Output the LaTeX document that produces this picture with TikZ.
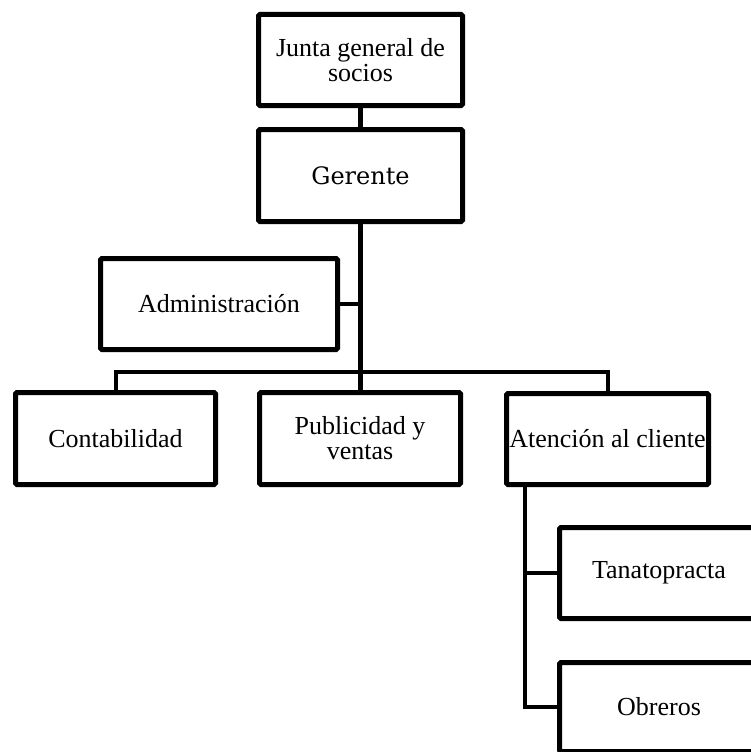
\documentclass[tikz,border=0pt]{standalone}
\usepackage{fontspec}
\setmainfont{Liberation Serif}
\newfontfamily\gerfont{DejaVu Serif}
\usetikzlibrary{calc}
\begin{document}
\begin{tikzpicture}[x=1pt,y=-1pt,
  box/.style={draw=black, line width=5pt, rounded corners=1.5pt, fill=white,
    inner sep=0pt, align=center, font=\fontsize{26}{25}\selectfont},
  conn/.style={draw=black, line width=4pt},
  mainconn/.style={draw=black, line width=5pt},
  thinconn/.style={draw=black, line width=3.5pt}]
\useasboundingbox (0,0) rectangle (750,752);
% connectors first (behind boxes)
\node[box, minimum width=204pt, minimum height=91pt] (junta) at (360.5,60) {Junta general de\\socios};
\node[box, minimum width=204pt, minimum height=92pt, font=\gerfont\fontsize{24}{26}\selectfont] (gerente) at (360.5,175.5) {Gerente};
\node[box, minimum width=237pt, minimum height=91pt] (admin) at (219,304) {Administración};
\node[box, minimum width=200pt, minimum height=92pt] (conta) at (115.5,438.5) {Contabilidad};
\node[box, minimum width=201pt, minimum height=92pt] (publi) at (360,438.5) {Publicidad y\\ventas};
\node[box, minimum width=202pt, minimum height=91pt] (aten) at (607.5,439) {Atención al cliente};
\node[box, minimum width=199pt, minimum height=91pt] (tanato) at (659,573) {Tanatopracta};
\node[box, minimum width=199pt, minimum height=89pt] (obreros) at (659,707) {Obreros};
% connectors
\draw[mainconn] (junta.south) -- (gerente.north);
\draw[mainconn] (gerente.south) -- (gerente.south |- publi.north);
\draw[thinconn] (admin.east) -- (admin.east -| gerente.south);
\coordinate (bar) at (360,372);
\draw[conn] (conta.north) |- (bar) -| (aten.north);
\coordinate (av) at ($(aten.south west)+(20.5,0)$);
\draw[conn] (av) |- (obreros.west);
\draw[conn] (av |- tanato.west) -- (tanato.west);
\end{tikzpicture}
\end{document}
